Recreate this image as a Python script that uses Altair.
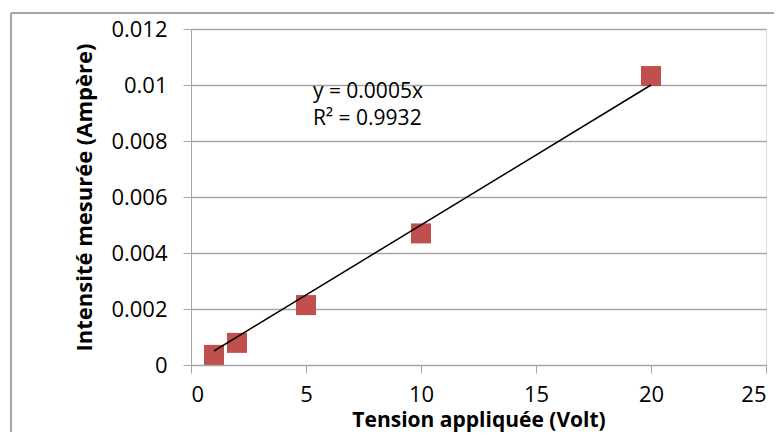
import altair as alt
import pandas as pd

tension = [1, 2, 5, 10, 20]
intensite = [0.00036, 0.00079, 0.00214, 0.0047, 0.01032]

trend_x = [1, 20]
trend_y = [0.0005, 0.01]

eq_text = ["y = 0.0005x", "R² = 0.9932"]
eq_x = [5.3, 5.3]
eq_y = [0.00975, 0.0088]

FONT = "Open Sans"
GRID = "#A6A6A6"

pts = pd.DataFrame({"x": tension, "y": intensite})
trend = pd.DataFrame({"x": trend_x, "y": trend_y})
eq = pd.DataFrame({"x": eq_x, "y": eq_y, "t": eq_text})

xscale = alt.Scale(domain=[0, 25], nice=False, zero=True)
yscale = alt.Scale(domain=[0, 0.012], nice=False, zero=True)

xaxis = alt.Axis(
    title="Tension appliquée (Volt)",
    values=[0, 5, 10, 15, 20, 25],
    grid=False,
    domainColor=GRID,
    tickColor=GRID,
    tickSize=8,
    labelPadding=11,
    labelFontSize=22,
    labelFont=FONT,
    labelColor="#000000",
    titleFont=FONT,
    titleFontSize=21,
    titleFontWeight="bold",
    titleColor="#000000",
    titleY=61,
    titleBaseline="alphabetic",
)
yaxis = alt.Axis(
    title="Intensité mesurée (Ampère)",
    values=[0, 0.002, 0.004, 0.006, 0.008, 0.01, 0.012],
    format="~g",
    grid=True,
    gridColor=GRID,
    gridWidth=1.5,
    domainColor=GRID,
    tickColor=GRID,
    tickSize=8,
    labelPadding=16,
    labelFontSize=22,
    labelFont=FONT,
    labelColor="#000000",
    titleFont=FONT,
    titleFontSize=22,
    titleFontWeight="bold",
    titleColor="#000000",
    titlePadding=14,
)

base = alt.Chart(pts)

points = base.mark_square(size=400, color="#C0504D", opacity=1).encode(
    x=alt.X("x:Q", scale=xscale, axis=xaxis),
    y=alt.Y("y:Q", scale=yscale, axis=yaxis),
)

line = alt.Chart(trend).mark_line(color="#000000", strokeWidth=1.5).encode(
    x=alt.X("x:Q", scale=xscale),
    y=alt.Y("y:Q", scale=yscale),
)

text = alt.Chart(eq).mark_text(
    align="left", baseline="middle", fontSize=21, font=FONT, color="#000000"
).encode(
    x=alt.X("x:Q", scale=xscale),
    y=alt.Y("y:Q", scale=yscale),
    text="t:N",
)

border_left = alt.Chart(pts).mark_rule(color=GRID, strokeWidth=1.5).encode(
    x=alt.value(-180), y=alt.value(-16), y2=alt.value(420)
)
border_top = alt.Chart(pts).mark_rule(color=GRID, strokeWidth=1.5).encode(
    x=alt.value(-180), x2=alt.value(600), y=alt.value(-16)
)

chart = alt.layer(points, line, text, border_left, border_top).properties(
    width=575,
    height=336,
    autosize=alt.AutoSizeParams(type="none"),
    padding={"left": 183, "top": 21, "right": 8, "bottom": 67},
).configure_view(stroke=None).configure(background="#FFFFFF")

chart.save("out.html", embed_options={"renderer": "svg", "actions": False})
